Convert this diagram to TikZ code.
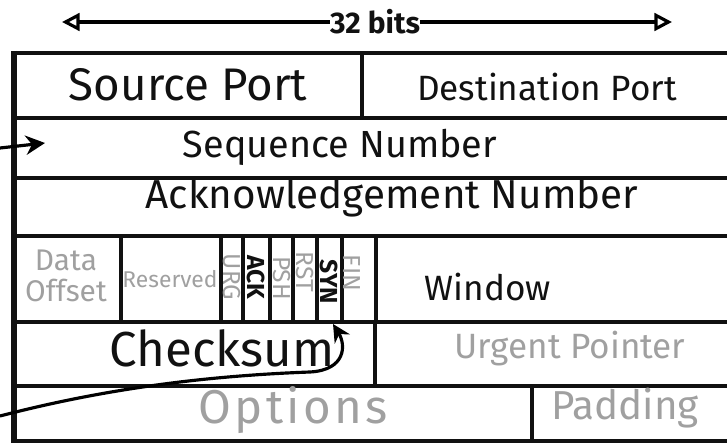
\documentclass[tikz,border=0pt]{standalone}
\usepackage{fontspec}
\setmainfont{Fira Sans}
\usetikzlibrary{arrows.meta, positioning}
\definecolor{inkDark}{HTML}{111111}
\definecolor{inkMuted}{HTML}{A0A0A0}
\tikzset{
  rule/.style={line width=2pt, draw=inkDark},
  fieldtxt/.style={inner sep=0pt, text=inkDark},
  faint/.style={inner sep=0pt, text=inkMuted},
  flag/.style={inner sep=0pt, rotate=-90, font=\fontsize{14}{14}\selectfont},
}

\begin{document}
\begin{tikzpicture}[x=0.02cm, y=-0.02cm]
  \useasboundingbox (0,0) rectangle (727,446);
  \clip (0,0) rectangle (727,446);

  % width marker
  \node[fieldtxt, font=\fontsize{17}{17}\selectfont\bfseries] (bits) at (375,22) {32 bits};
  \coordinate (bitsL) at (62,22);
  \coordinate (bitsR) at (672,22);
  \draw[line width=1.8pt, -{Triangle[open, length=10pt, width=10pt, line width=1.8pt]}] (bits.west) -- (bitsL);
  \draw[line width=1.8pt, -{Triangle[open, length=10pt, width=10pt, line width=1.8pt]}] (bits.east) -- (bitsR);

  % header grid
  \foreach \y in {53,118,178,236,322,386,441}
    \draw[rule] (12,\y) -- (740,\y);
  \draw[line width=3pt, inkDark] (14,51) -- (14,443);
  \draw[rule] (362,53) -- (362,118);
  \foreach \x in {121,221,243,270,293,317,342,376}
    \draw[rule] (\x,236) -- (\x,322);
  \draw[rule] (375,322) -- (375,386);
  \draw[rule] (532,386) -- (532,441);

  % fields
  \node[fieldtxt, font=\fontsize{26}{26}\selectfont] (src) at (188,85) {Source Port};
  \node[fieldtxt, font=\fontsize{20}{20}\selectfont] (dst) at (547,87) {Destination Port};
  \node[fieldtxt, font=\fontsize{21.5}{21.5}\selectfont] (seq) at (340,147) {Sequence Number};
  \node[fieldtxt, font=\fontsize{23}{23}\selectfont] (ackn) at (392,198) {Acknowledgement Number};
  \node[faint, font=\fontsize{17}{18}\selectfont, align=center] (off) at (66,276) {Data\\Offset};
  \node[faint, font=\fontsize{13}{13}\selectfont] (res) at (170,279) {Reserved};
  \node[faint, flag] (urg) at (232,277) {URG};
  \node[fieldtxt, flag, font=\fontsize{14}{14}\selectfont\bfseries] (ack) at (256.5,277) {ACK};
  \node[faint, flag] (psh) at (281.5,278) {PSH};
  \node[faint, flag] (rst) at (305,272) {RST};
  \node[fieldtxt, flag, font=\fontsize{14}{14}\selectfont\bfseries] (syn) at (329.5,282) {SYN};
  \node[faint, flag] (fin) at (352,273) {FIN};
  \node[fieldtxt, font=\fontsize{20}{20}\selectfont] (win) at (488,287) {Window};
  \node[fieldtxt, font=\fontsize{28}{28}\selectfont] (chk) at (222,348) {Checksum};
  \node[faint, font=\fontsize{20}{20}\selectfont] (urgp) at (570,349) {Urgent Pointer};
  \node[faint, font=\fontsize{27}{27}\selectfont\addfontfeature{LetterSpace=7}] (opt) at (293,410) {Options};
  \node[faint, font=\fontsize{23}{23}\selectfont] (pad) at (625,408) {Padding};

  % incoming arrows
  \coordinate (seqIn) at (0,148);
  \coordinate (seqTip) at (45,143);
  \draw[line width=1.8pt, -{Stealth[length=11pt, width=11pt]}] (seqIn) -- (seqTip);
  \coordinate (optIn) at (0,416);
  \coordinate (synTip) at (333,324);
  \draw[line width=1.8pt, -{Stealth[length=10pt, width=10pt]}] (optIn)
    .. controls (100,390) and (200,376) .. (310,372)
    .. controls (346,370) and (346,345) .. (synTip);
\end{tikzpicture}
\end{document}
